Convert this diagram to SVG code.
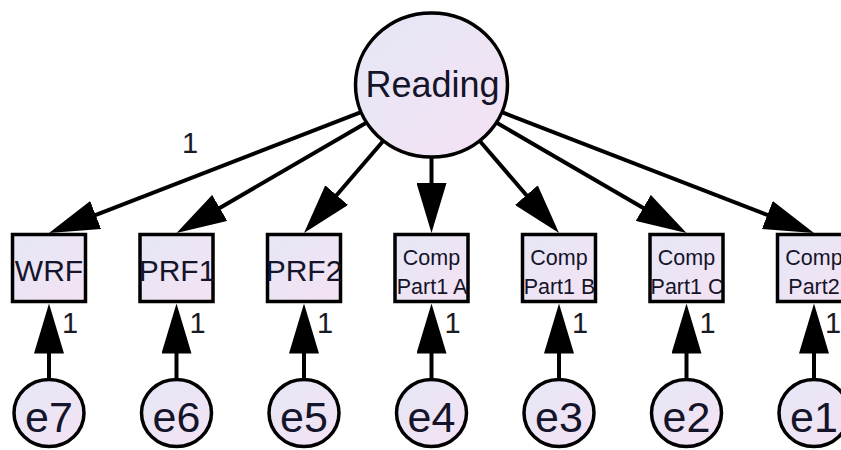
<svg xmlns="http://www.w3.org/2000/svg" width="841" height="450" viewBox="0 0 841 450">
  <style>
    .node { fill: url(#g); stroke: #000; stroke-width: 3.5; }
    .lbl { font-family: "Liberation Sans", Arial, sans-serif; fill: #14142a; text-anchor: middle; }
    .big { font-size: 30px; }
    .small { font-size: 21.5px; }
    .err { font-size: 43px; }
    .one { font-family: "Liberation Sans", Arial, sans-serif; fill: #1a1a24; font-size: 29px; text-anchor: middle; }
    .edge { stroke: #000; stroke-width: 4; fill: none; marker-end: url(#ah); }
  </style>
  <defs>
    <linearGradient id="g" x1="0" y1="0" x2="1" y2="1">
      <stop offset="0" stop-color="#e5e7f6"/>
      <stop offset="1" stop-color="#f4e2f3"/>
    </linearGradient>
    <marker id="ah" markerUnits="userSpaceOnUse" viewBox="0 0 50 30" markerWidth="50" markerHeight="30" refX="10" refY="15" orient="auto">
      <path d="M0,0 L50,15 L0,30 Z" fill="#000"/>
    </marker>
  </defs>
  <rect width="841" height="450" fill="#fff"/>

  <g id="connectors">
    <line class="edge" x1="361.1" y1="112.2" x2="86.3" y2="218.6"/>
    <line class="edge" x1="366.7" y1="122.6" x2="211.1" y2="212.9"/>
    <line class="edge" x1="383.4" y1="140.8" x2="330.1" y2="202.7"/>
    <line class="edge" x1="431.5" y1="157" x2="431.5" y2="193"/>
    <line class="edge" x1="479.6" y1="140.8" x2="532.9" y2="202.7"/>
    <line class="edge" x1="496.3" y1="122.6" x2="651.9" y2="212.9"/>
    <line class="edge" x1="501.9" y1="112.2" x2="776.7" y2="218.6"/>
    <line class="edge" x1="49" y1="380" x2="49" y2="343.5"/>
    <line class="edge" x1="176.5" y1="380" x2="176.5" y2="343.5"/>
    <line class="edge" x1="304" y1="380" x2="304" y2="343.5"/>
    <line class="edge" x1="431.5" y1="380" x2="431.5" y2="343.5"/>
    <line class="edge" x1="559" y1="380" x2="559" y2="343.5"/>
    <line class="edge" x1="686.5" y1="380" x2="686.5" y2="343.5"/>
    <line class="edge" x1="814" y1="380" x2="814" y2="343.5"/>
    <text class="one" x="190" y="153">1</text>
    <text class="one" x="70" y="333">1</text>
    <text class="one" x="197.5" y="333">1</text>
    <text class="one" x="325" y="333">1</text>
    <text class="one" x="452.5" y="333">1</text>
    <text class="one" x="580" y="333">1</text>
    <text class="one" x="707.5" y="333">1</text>
    <text class="one" x="833" y="333">1</text>
  </g>

  <g id="reading">
    <ellipse class="node" cx="431.5" cy="85" rx="76" ry="72"/>
    <text class="lbl" x="432.5" y="97" font-size="36">Reading</text>
  </g>

  <g id="wrf">
    <rect class="node" x="12.5" y="234.5" width="73" height="67"/>
    <text class="lbl big" x="49" y="281">WRF</text>
  </g>
  <g id="prf1">
    <rect class="node" x="140" y="234.5" width="73" height="67"/>
    <text class="lbl big" x="177" y="281">PRF1</text>
  </g>
  <g id="prf2">
    <rect class="node" x="267.5" y="234.5" width="73" height="67"/>
    <text class="lbl big" x="304" y="281">PRF2</text>
  </g>
  <g id="comp1a">
    <rect class="node" x="395" y="234.5" width="73" height="67"/>
    <text class="lbl small" x="431.5" y="265">Comp</text>
    <text class="lbl small" x="432" y="294">Part1 A</text>
  </g>
  <g id="comp1b">
    <rect class="node" x="522.5" y="234.5" width="73" height="67"/>
    <text class="lbl small" x="559" y="265">Comp</text>
    <text class="lbl small" x="559.5" y="294">Part1 B</text>
  </g>
  <g id="comp1c">
    <rect class="node" x="650" y="234.5" width="73" height="67"/>
    <text class="lbl small" x="686.5" y="265">Comp</text>
    <text class="lbl small" x="687" y="294">Part1 C</text>
  </g>
  <g id="comp2">
    <rect class="node" x="777.5" y="234.5" width="73" height="67"/>
    <text class="lbl small" x="814" y="265">Comp</text>
    <text class="lbl small" x="814" y="294">Part2</text>
  </g>

  <g id="e7">
    <ellipse class="node" cx="49" cy="413" rx="35" ry="33.5"/>
    <text class="lbl err" x="49" y="432">e7</text>
  </g>
  <g id="e6">
    <ellipse class="node" cx="176.5" cy="413" rx="35" ry="33.5"/>
    <text class="lbl err" x="176.5" y="432">e6</text>
  </g>
  <g id="e5">
    <ellipse class="node" cx="304" cy="413" rx="35" ry="33.5"/>
    <text class="lbl err" x="304" y="432">e5</text>
  </g>
  <g id="e4">
    <ellipse class="node" cx="431.5" cy="413" rx="35" ry="33.5"/>
    <text class="lbl err" x="431.5" y="432">e4</text>
  </g>
  <g id="e3">
    <ellipse class="node" cx="559" cy="413" rx="35" ry="33.5"/>
    <text class="lbl err" x="559" y="432">e3</text>
  </g>
  <g id="e2">
    <ellipse class="node" cx="686.5" cy="413" rx="35" ry="33.5"/>
    <text class="lbl err" x="686.5" y="432">e2</text>
  </g>
  <g id="e1">
    <ellipse class="node" cx="814" cy="413" rx="35" ry="33.5"/>
    <text class="lbl err" x="814" y="432">e1</text>
  </g>
</svg>
